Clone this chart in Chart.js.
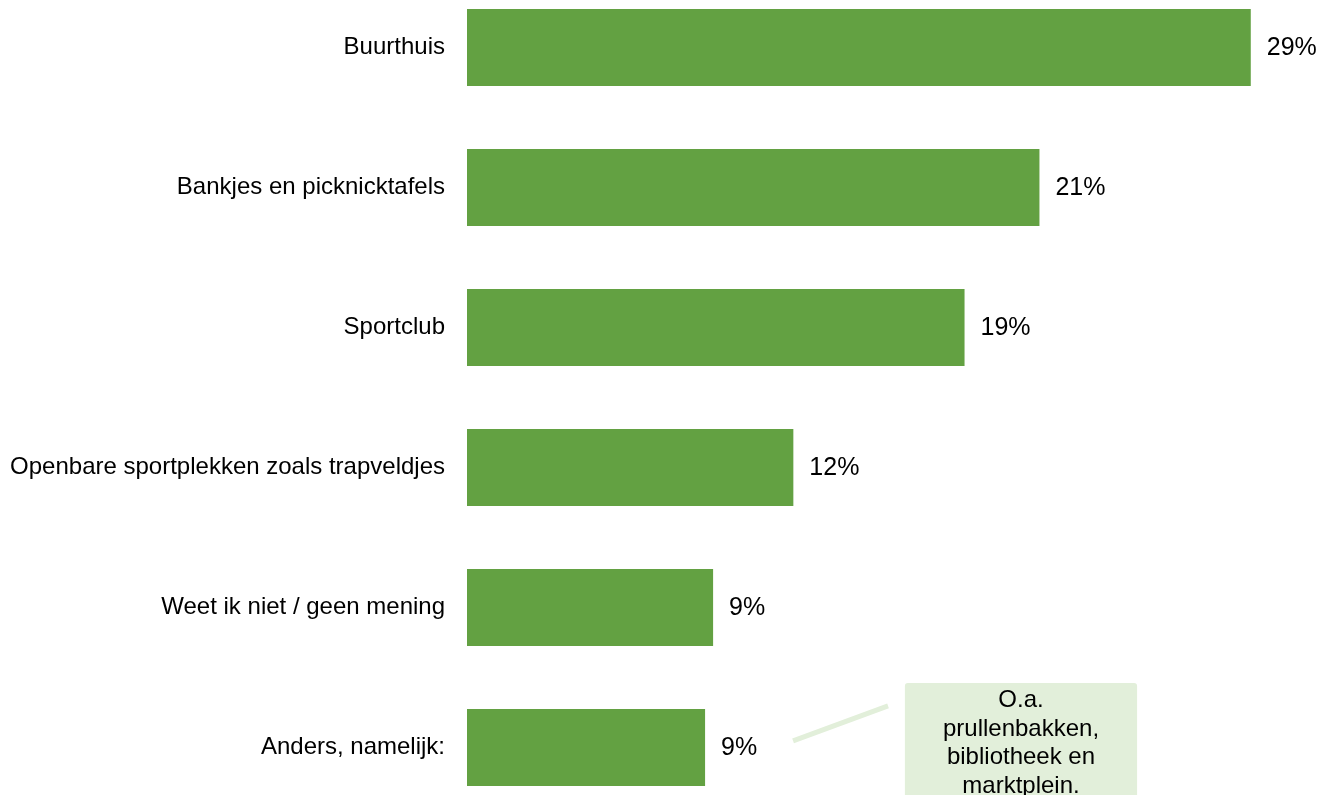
<!DOCTYPE html>
<html lang="nl">
<head>
<meta charset="utf-8">
<title>Voorzieningen</title>
<script src="https://cdn.jsdelivr.net/npm/chart.js@4/dist/chart.umd.min.js"></script>
<style>
  html, body { margin: 0; padding: 0; background: #ffffff; overflow: hidden; }
  body { width: 1323px; height: 795px; position: relative; }
  /* chart area runs past the top and bottom of the picture */
  #wrap { position: absolute; left: 0; top: -59.4px; width: 1323px; height: 912.8px; }
</style>
</head>
<body>
<div id="wrap"><canvas id="voorzieningenChart"></canvas></div>
<script>
const categories = [
  "Buurthuis",
  "Bankjes en picknicktafels",
  "Sportclub",
  "Openbare sportplekken zoals trapveldjes",
  "Weet ik niet / geen mening",
  "Anders, namelijk:"
];
const values = [29.3, 21.4, 18.6, 12.2, 9.2, 8.9];
const noteLines = ["O.a.", "prullenbakken,", "bibliotheek en", "marktplein."];

const FONT = "'Liberation Sans', Arial, sans-serif";
const BAR_GREEN = "#63a142";
const NOTE_GREEN = "#e2efda";

// percentages next to each bar
const valueLabels = {
  id: "valueLabels",
  afterDatasetsDraw(chart) {
    const ctx = chart.ctx;
    const meta = chart.getDatasetMeta(0);
    ctx.save();
    ctx.font = "25px " + FONT;
    ctx.fillStyle = "#000000";
    ctx.textAlign = "left";
    ctx.textBaseline = "middle";
    meta.data.forEach(function (bar, i) {
      ctx.fillText(Math.round(values[i]) + "%", bar.x + 16, bar.y + 1);
    });
    ctx.restore();
  }
};

// callout box for "Anders, namelijk:"
const noteBox = {
  id: "noteBox",
  afterDraw(chart) {
    const ctx = chart.ctx;
    const x = chart.scales.x;
    const last = chart.getDatasetMeta(0).data[values.length - 1];
    const left = x.getPixelForValue(16.37);
    const right = x.getPixelForValue(25.05);
    const top = last.y - 64.5;

    ctx.save();
    ctx.strokeStyle = NOTE_GREEN;
    ctx.lineWidth = 5;
    ctx.beginPath();
    ctx.moveTo(x.getPixelForValue(12.19), last.y - 6.5);
    ctx.lineTo(x.getPixelForValue(15.74), last.y - 41.5);
    ctx.stroke();

    ctx.fillStyle = NOTE_GREEN;
    ctx.beginPath();
    ctx.roundRect(left, top, right - left, 160, 3);
    ctx.fill();

    ctx.font = "24px " + FONT;
    ctx.fillStyle = "#000000";
    ctx.textAlign = "center";
    ctx.textBaseline = "alphabetic";
    noteLines.forEach(function (line, i) {
      ctx.fillText(line, (left + right) / 2, top + 24.5 + i * 28.5);
    });
    ctx.restore();
  }
};

const ctx = document.getElementById("voorzieningenChart").getContext("2d");

new Chart(ctx, {
  type: "bar",
  data: {
    labels: categories,
    datasets: [
      {
        data: values,
        backgroundColor: BAR_GREEN,
        borderWidth: 0,
        barPercentage: 0.55,
        categoryPercentage: 1
      }
    ]
  },
  options: {
    indexAxis: "y",
    responsive: true,
    maintainAspectRatio: false,
    animation: false,
    layout: { padding: 0 },
    plugins: {
      legend: { display: false },
      tooltip: { enabled: false }
    },
    scales: {
      x: {
        display: false,
        min: 0,
        max: 32
      },
      y: {
        grid: { display: false, drawTicks: false },
        border: { display: false },
        ticks: {
          padding: 22,
          color: "#000000",
          font: { family: FONT, size: 24 }
        },
        afterFit: function (scale) {
          scale.width = 467;
        }
      }
    }
  },
  plugins: [valueLabels, noteBox]
});
</script>
</body>
</html>
